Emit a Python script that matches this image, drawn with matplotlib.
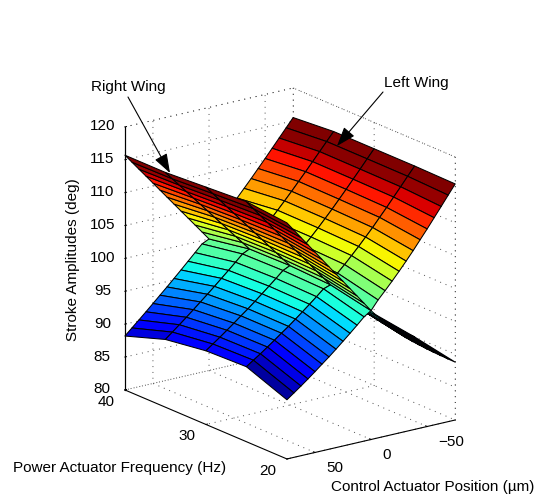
import matplotlib
matplotlib.use('Agg')
import matplotlib.pyplot as plt
import numpy as np

plt.rcParams['font.family'] = ['Liberation Sans', 'DejaVu Sans']

# control position (um), listed from +75 down to -75
position = [75, 68.75, 62.5, 56.25, 50, 43.75, 37.5, 31.25, 25, 18.75, 12.5, 6.25, 0,
            -6.25, -12.5, -18.75, -25, -31.25, -37.5, -43.75, -50, -56.25, -62.5, -68.75, -75]
frequency = [20, 25, 30, 35, 40]

# one row per frequency, one column per position
left_wing = [
    [89.0, 89.79, 90.59, 91.42, 92.28, 93.17, 94.04, 94.96, 95.92, 96.88, 97.87, 98.89, 99.6,
     100.97, 102.13, 103.34, 104.59, 105.89, 107.23, 108.64, 110.04, 111.5, 112.96, 114.44, 115.9],
    [91.4, 92.14, 92.87, 93.65, 94.44, 95.26, 96.05, 96.91, 97.78, 98.67, 99.58, 100.52, 100.9,
     102.43, 103.48, 104.59, 105.73, 106.92, 108.12, 109.41, 110.68, 112.01, 113.33, 114.68, 116],
    [91.2, 91.98, 92.77, 93.58, 94.41, 95.27, 96.1, 96.98, 97.89, 98.8, 99.73, 100.69, 101.2,
     102.63, 103.7, 104.8, 105.93, 107.11, 108.3, 109.55, 110.81, 112.1, 113.39, 114.71, 116],
    [90.3, 91.17, 92.04, 92.93, 93.84, 94.77, 95.69, 96.64, 97.61, 98.58, 99.57, 100.58, 101.1,
     102.62, 103.71, 104.84, 105.99, 107.17, 108.38, 109.63, 110.87, 112.15, 113.43, 114.72, 116],
    [88.2, 89.18, 90.15, 91.14, 92.15, 93.17, 94.18, 95.22, 96.27, 97.34, 98.41, 99.49, 100.0,
     101.69, 102.85, 104.02, 105.23, 106.46, 107.7, 108.98, 110.26, 111.57, 112.88, 114.19, 115.5],
]
right_wing = [
    [115.9, 114.54, 113.18, 111.83, 110.47, 109.11, 107.75, 106.39, 105.04, 103.68, 102.32, 100.96, 99.6,
     98.36, 97.2, 96.13, 95.15, 94.23, 93.38, 92.57, 91.77, 91.0, 90.26, 89.52, 88.8],
    [116.5, 115.2, 113.9, 112.6, 111.3, 110, 108.7, 107.4, 106.1, 104.8, 103.5, 102.2, 100.9,
     99.65, 98.48, 97.4, 96.41, 95.48, 94.62, 93.8, 93, 92.22, 91.47, 90.73, 90],
    [116.1, 114.86, 113.62, 112.37, 111.13, 109.89, 108.65, 107.41, 106.17, 104.92, 103.68, 102.44, 101.2,
     100.02, 98.91, 97.89, 96.96, 96.08, 95.27, 94.49, 93.73, 93, 92.29, 91.59, 90.9],
    [115.7, 114.48, 113.27, 112.05, 110.83, 109.62, 108.4, 107.18, 105.97, 104.75, 103.53, 102.32, 101.1,
     99.94, 98.86, 97.86, 96.94, 96.08, 95.28, 94.52, 93.78, 93.06, 92.36, 91.68, 91],
    [115.7, 114.39, 113.08, 111.78, 110.47, 109.16, 107.85, 106.54, 105.23, 103.93, 102.62, 101.31, 100,
     98.73, 97.56, 96.47, 95.47, 94.53, 93.66, 92.84, 92.02, 91.24, 90.48, 89.74, 89],
]

x_ticks = [-50, 0, 50]
y_ticks = [20, 30, 40]
z_ticks = [80, 85, 90, 95, 100, 105, 110, 115, 120]

W, H = 537, 500


def frac(px, py):
    return px / W, 1 - py / H


fig = plt.figure(figsize=(W / 100, H / 100), dpi=100)
ax = fig.add_axes([69.9 / W, 6.4 / H, 428.7 / W, 428.7 / H], projection='3d',
                  proj_type='ortho', computed_zorder=False)
ax.set_box_aspect((209, 273, 277))
ax.view_init(elev=18.3, azim=-126.4)
ax.set_xlim(75, -75)
ax.set_ylim(20, 40)
ax.set_zlim(80, 120)

xs = np.array(position)[::-1]
X, Y = np.meshgrid(xs, frequency)
ZL = np.array(left_wing)[:, ::-1]
ZR = np.array(right_wing)[:, ::-1]
norm = plt.Normalize(89, 115)
jet = plt.get_cmap('jet')
# right wing rises towards +x, its cells take the colour of the higher corner
CR = np.column_stack([ZR[:, 1:], ZR[:, -1]])


def patch(Z, C, a, b, order):
    s = ax.plot_surface(X[:, a:b], Y[:, a:b], Z[:, a:b], facecolors=jet(norm(C[:, a:b])),
                        rstride=1, cstride=1, shade=False, linewidth=0.75, zorder=order)
    s.set_edgecolor('k')
    return s


# wings cross at position 0, so draw the far halves first
patch(ZR, CR, 0, 13, 2)
patch(ZL, ZL, 0, 13, 3)
patch(ZL, ZL, 12, 25, 4)
patch(ZR, CR, 12, 25, 5)

for axis, ticks in ((ax.xaxis, x_ticks), (ax.yaxis, y_ticks), (ax.zaxis, z_ticks)):
    axis.set_ticks(ticks)
    axis.set_pane_color((1, 1, 1, 0))
    axis.pane.set_edgecolor((1, 1, 1, 0))
    axis.line.set_color('k')
    axis.line.set_linewidth(0.8)
    axis._axinfo['grid'].update(color='0.3', linewidth=0.7, linestyle=(0, (1, 5)))
    axis._axinfo['tick'].update(inward_factor=0.0, outward_factor=0.12)
    axis._axinfo['tick']['linewidth'] = {True: 0.7, False: 0.5}
ax.xaxis.set_tick_params(labelsize=11, pad=3)
ax.yaxis.set_tick_params(labelsize=11, pad=2)
ax.zaxis.set_tick_params(labelsize=11, pad=3)
for t in ax.get_xticklabels():
    t.set(ha='left', va='bottom')
for t in ax.get_yticklabels():
    t.set(ha='right', va='bottom')
for t in ax.get_zticklabels():
    t.set(ha='center', va='center_baseline')

# dotted edges of the back planes
dots = dict(color='0.3', linewidth=0.7, linestyle=(0, (1, 5)), zorder=1)
ax.plot([75, -75], [40, 40], [120, 120], **dots)
ax.plot([-75, -75], [20, 40], [120, 120], **dots)
ax.plot([-75, -75], [40, 40], [80, 120], **dots)
ax.plot([-75, -75], [20, 20], [80, 120], **dots)
ax.plot([75, 75], [40, 40], [80, 120], color='k', linewidth=0.8, zorder=1)

fig.text(*frac(433, 487), 'Control Actuator Position (µm)', fontsize=11, ha='center', va='center')
fig.text(*frac(120, 468), 'Power Actuator Frequency (Hz)', fontsize=11, ha='center', va='center')
fig.text(*frac(73, 260), 'Stroke Amplitudes (deg)', fontsize=11, rotation=90, ha='center', va='center')
fig.text(*frac(128, 87), 'Right Wing', fontsize=11, ha='center', va='center')
fig.text(*frac(416, 83), 'Left Wing', fontsize=11, ha='center', va='center')

arrow = dict(arrowstyle='-|>,head_length=0.85,head_width=0.3', color='k', lw=0.8,
             shrinkA=0, shrinkB=0, mutation_scale=14)
ax.annotate('', xy=frac(170, 173), xytext=frac(128, 97), xycoords='figure fraction',
            textcoords='figure fraction', arrowprops=arrow, zorder=10, annotation_clip=False)
ax.annotate('', xy=frac(337, 146), xytext=frac(383, 92), xycoords='figure fraction',
            textcoords='figure fraction', arrowprops=arrow, zorder=10, annotation_clip=False)

fig.savefig('out.png', dpi=100)
